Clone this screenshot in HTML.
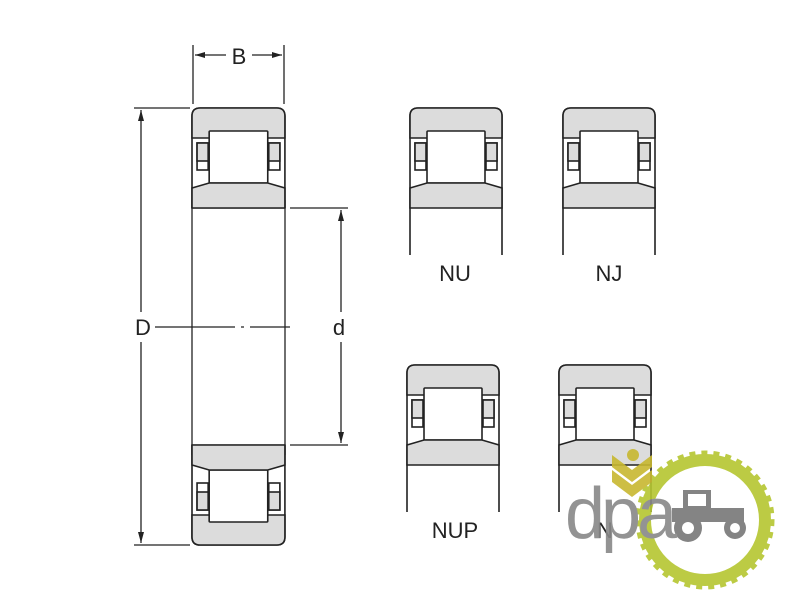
<!DOCTYPE html>
<html><head><style>html,body{margin:0;padding:0;background:#fff}svg{display:block}</style></head>
<body>
<svg width="800" height="600" viewBox="0 0 800 600" xmlns="http://www.w3.org/2000/svg" font-family="Liberation Sans, sans-serif">
<defs>
<g id="brg" stroke="#222" stroke-width="1.6" fill="none">
  <path d="M0,100 V8 Q0,0 8,0 H84 Q92,0 92,8 V100" />
  <path d="M0,30 V8 Q0,0 8,0 H84 Q92,0 92,8 V30 H0Z" fill="#dcdcdc"/>
  <rect x="17" y="23" width="58" height="52" fill="#fff" rx="1"/>
  <rect x="5" y="35" width="11" height="27" fill="#fff"/>
  <rect x="5" y="35" width="11" height="18" fill="#dcdcdc"/>
  <rect x="76" y="35" width="11" height="27" fill="#fff"/>
  <rect x="76" y="35" width="11" height="18" fill="#dcdcdc"/>
  <path d="M0,80 L17,75 H75 L92,80 V100 H0Z" fill="#dcdcdc"/>
</g>
</defs>
<g stroke="#222" stroke-width="1.3" fill="none">
  <!-- B dim -->
  <line x1="193" y1="45" x2="193" y2="104"/><line x1="284" y1="45" x2="284" y2="104"/>
  <line x1="195" y1="55" x2="226" y2="55"/><line x1="252" y1="55" x2="282" y2="55"/>
  <!-- D dim -->
  <line x1="134" y1="108" x2="190" y2="108"/><line x1="134" y1="545" x2="190" y2="545"/>
  <line x1="141" y1="110" x2="141" y2="312"/><line x1="141" y1="342" x2="141" y2="543"/>
  <!-- d dim -->
  <line x1="290" y1="208" x2="348" y2="208"/><line x1="290" y1="445" x2="348" y2="445"/>
  <line x1="341" y1="210" x2="341" y2="312"/><line x1="341" y1="342" x2="341" y2="443"/>
  <!-- centre line -->
  <line x1="155" y1="327" x2="290" y2="327" stroke-dasharray="80,6,3,6,60"/>
  <!-- main bearing body -->
  <line x1="192" y1="200" x2="192" y2="455"/><line x1="285" y1="200" x2="285" y2="455"/>
  <line x1="192" y1="208" x2="285" y2="208"/><line x1="192" y1="445" x2="285" y2="445"/>
</g>
<g fill="#222">
  <polygon points="195,55 205,52 205,58"/><polygon points="282,55 272,52 272,58"/>
  <polygon points="141,110 138,121 144,121"/><polygon points="141,543 138,532 144,532"/>
  <polygon points="341,210 338,221 344,221"/><polygon points="341,443 338,432 344,432"/>
</g>
<use href="#brg" transform="translate(192,108) scale(1.01,1)"/>
<use href="#brg" transform="translate(192,545) scale(1.01,-1)"/>
<use href="#brg" transform="translate(410,108)"/>
<use href="#brg" transform="translate(563,108)"/>
<use href="#brg" transform="translate(407,365)"/>
<use href="#brg" transform="translate(559,365)"/>
<g stroke="#222" stroke-width="1.6">
  <line x1="410" y1="208" x2="410" y2="255"/><line x1="502" y1="208" x2="502" y2="255"/>
  <line x1="563" y1="208" x2="563" y2="255"/><line x1="655" y1="208" x2="655" y2="255"/>
  <line x1="407" y1="465" x2="407" y2="512"/><line x1="499" y1="465" x2="499" y2="512"/>
  <line x1="559" y1="465" x2="559" y2="512"/><line x1="651" y1="465" x2="651" y2="512"/>
</g>
<g fill="#222" font-size="22" text-anchor="middle">
  <text x="239" y="64">B</text>
  <text x="143" y="335">D</text>
  <text x="339" y="335">d</text>
  <text x="455" y="281">NU</text>
  <text x="609" y="281">NJ</text>
  <text x="455" y="538">NUP</text>
  <text x="605" y="538">N</text>
</g>
<!-- logo -->
<g opacity="0.9">
  <circle cx="705" cy="520" r="60" fill="none" stroke="#b5c630" stroke-width="12"/>
  <circle cx="705" cy="520" r="67" fill="none" stroke="#b5c630" stroke-width="5" stroke-dasharray="6,6"/>
  <path d="M612,470 L632,485 L652,470 V482 L632,497 L612,482Z M612,455 L632,470 L652,455 V467 L632,482 L612,467Z" fill="#c8b830"/>
  <circle cx="633" cy="455" r="6" fill="#c8b830"/>
  <g fill="#777">
    <rect x="683" y="490" width="28" height="20"/>
    <rect x="672" y="508" width="72" height="14"/>
    <circle cx="688" cy="528" r="14"/><circle cx="735" cy="528" r="11"/>
  </g>
  <circle cx="688" cy="528" r="6" fill="#fff"/><circle cx="735" cy="528" r="5" fill="#fff"/>
  <rect x="688" y="494" width="18" height="12" fill="#fff"/>
  <text x="565" y="538" font-size="72" fill="#888" letter-spacing="-4">dpa</text>
</g>
</svg>
</body></html>
